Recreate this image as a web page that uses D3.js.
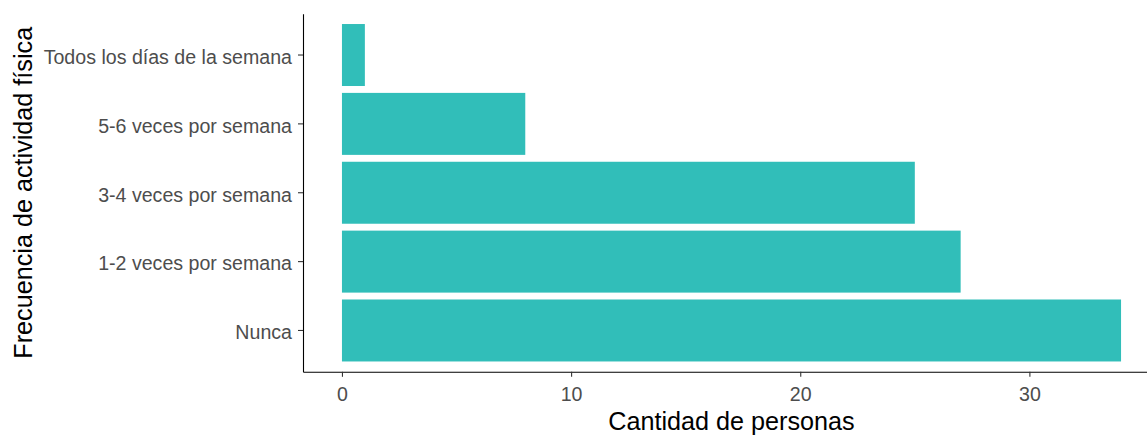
<!DOCTYPE html>
<html>
<head>
<meta charset="utf-8">
<script src="https://cdn.jsdelivr.net/npm/d3@7"></script>
<style>
  body { margin: 0; background: #fff; }
  svg { font-family: "Liberation Sans", Arial, sans-serif; }
</style>
</head>
<body>
<svg id="chart"></svg>
<script>
// categorias (de arriba hacia abajo) y cantidades
var categorias = ["Todos los días de la semana", "5-6 veces por semana", "3-4 veces por semana", "1-2 veces por semana", "Nunca"];
var cantidades = [1, 8, 25, 27, 34];
var xTicks = [0, 10, 20, 30];

var W = 1147, H = 435;
var margin = {top: 13.7, left: 303},
    panelBottom = 371.8,
    panelRight = 1160;

var svg = d3.select("#chart").attr("width", W).attr("height", H);

var data = categorias.map(function(c, i) { return {cat: c, value: cantidades[i]}; });

// escala continua con expansion del 5% como ggplot
var x = d3.scaleLinear()
    .domain([-1.7, 35.7])
    .range([margin.left, panelRight]);

var y = d3.scaleBand()
    .domain(categorias)
    .range([margin.top, panelBottom])
    .paddingInner(0.1)
    .paddingOuter(0.15);

svg.append("g").selectAll("rect")
    .data(data)
    .enter().append("rect")
    .attr("x", x(0))
    .attr("y", function(d) { return y(d.cat); })
    .attr("width", function(d) { return x(d.value) - x(0); })
    .attr("height", y.bandwidth())
    .attr("fill", "#31BEB9");

var xAxis = svg.append("g")
    .attr("transform", "translate(0," + panelBottom + ")")
    .call(d3.axisBottom(x).tickValues(xTicks).tickSize(5).tickPadding(10).tickSizeOuter(0));

var yAxis = svg.append("g")
    .attr("transform", "translate(" + margin.left + ",0)")
    .call(d3.axisLeft(y).tickSize(5).tickPadding(6).tickSizeOuter(0));

[xAxis, yAxis].forEach(function(a) {
  a.select(".domain").attr("stroke", "#000").attr("stroke-width", 1.1);
  a.selectAll(".tick line").attr("stroke", "#333").attr("stroke-width", 1.1);
  a.selectAll(".tick text").attr("fill", "#4D4D4D").style("font-size", "19.6px");
});
yAxis.selectAll(".tick text").attr("dy", "0.45em");

svg.append("text")
    .attr("x", (x.range()[0] + x.range()[1]) / 2)
    .attr("y", 430)
    .attr("text-anchor", "middle")
    .style("font-size", "25.2px")
    .attr("fill", "#000")
    .text("Cantidad de personas");

svg.append("text")
    .attr("transform", "translate(32," + ((margin.top + panelBottom) / 2) + ") rotate(-90)")
    .attr("text-anchor", "middle")
    .style("font-size", "25.2px")
    .attr("fill", "#000")
    .text("Frecuencia de actividad física");
</script>
</body>
</html>
